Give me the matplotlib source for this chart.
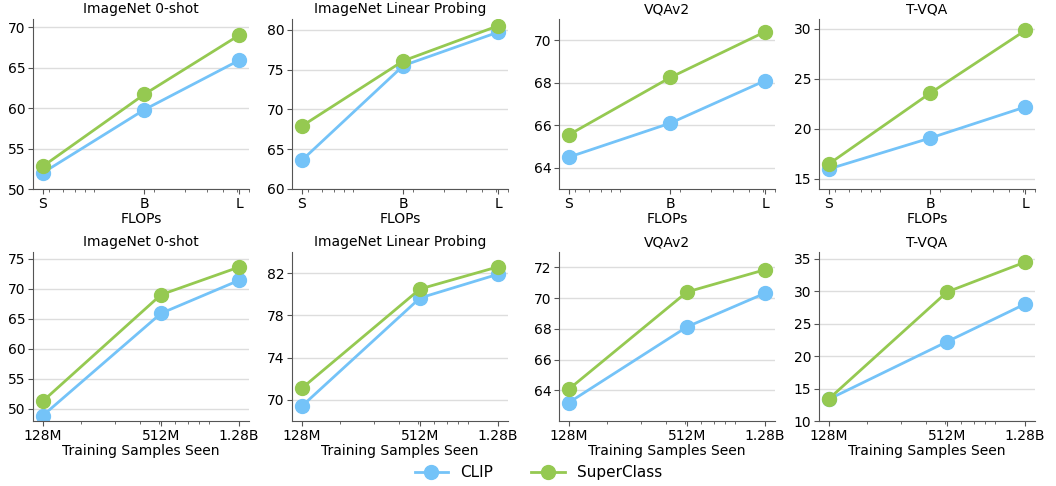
import matplotlib
matplotlib.use('Agg')
import matplotlib.pyplot as plt

# x positions (log scale): model FLOPs (GFLOPs) and training samples seen
flops = [4.6, 17.6, 61.6]
flop_labels = ['S', 'B', 'L']
samples = [128e6, 512e6, 1.28e9]
sample_labels = ['128M', '512M', '1.28B']

titles = ['ImageNet 0-shot', 'ImageNet Linear Probing', 'VQAv2', 'T-VQA']

# top row: scaling model size
clip_flops = [
    [52.0, 59.8, 65.9],
    [63.6, 75.5, 79.7],
    [64.5, 66.1, 68.1],
    [16.0, 19.1, 22.2],
]
sc_flops = [
    [52.8, 61.7, 69.0],
    [67.9, 76.1, 80.5],
    [65.55, 68.25, 70.4],
    [16.5, 23.6, 29.85],
]
ylim_flops = [(50, 71), (60, 81.35), (63, 71), (14, 31)]
yticks_flops = [[50, 55, 60, 65, 70], [60, 65, 70, 75, 80], [64, 66, 68, 70], [15, 20, 25, 30]]

# bottom row: scaling data
clip_samples = [
    [48.9, 65.9, 71.4],
    [69.4, 79.65, 81.9],
    [63.2, 68.13, 70.32],
    [13.35, 22.2, 28.0],
]
sc_samples = [
    [51.3, 69.0, 73.6],
    [71.1, 80.5, 82.6],
    [64.07, 70.4, 71.85],
    [13.4, 29.85, 34.45],
]
ylim_samples = [(48, 76.1), (68, 84), (62, 73), (10, 36)]
yticks_samples = [[50, 55, 60, 65, 70, 75], [70, 74, 78, 82], [64, 66, 68, 70, 72], [10, 15, 20, 25, 30, 35]]

blue = '#74C3F8'
green = '#95C951'

fig = plt.figure(figsize=(10.56, 4.86), dpi=100)

lefts = [33, 292, 559, 819]
axw = 216
W, H = 1056, 486


def style(ax):
    for s in ['top', 'right']:
        ax.spines[s].set_visible(False)
    for s in ['left', 'bottom']:
        ax.spines[s].set_color('#555555')
    ax.yaxis.grid(True, color='#dddddd', lw=1)
    ax.set_axisbelow(True)
    ax.tick_params(labelsize=10, length=3.5, color='#555555', pad=2)
    ax.tick_params(which='minor', length=2, color='#555555')


for i in range(4):
    # top row
    ax = fig.add_axes([lefts[i] / W, 1 - 189 / H, axw / W, 170 / H])
    ax.set_xscale('log')
    l1, = ax.plot(flops, clip_flops[i], '-o', color=blue, lw=2, ms=10, label='CLIP')
    l2, = ax.plot(flops, sc_flops[i], '-o', color=green, lw=2, ms=10, label='SuperClass')
    ax.set_xticks(flops)
    ax.set_xticklabels(flop_labels)
    ax.xaxis.set_minor_formatter(matplotlib.ticker.NullFormatter())
    ax.set_ylim(*ylim_flops[i])
    ax.set_yticks(yticks_flops[i])
    ax.set_title(titles[i], fontsize=10, pad=4)
    ax.set_xlabel('FLOPs', fontsize=10, labelpad=1)
    style(ax)

    # bottom row
    ax = fig.add_axes([lefts[i] / W, 1 - 421 / H, axw / W, 169 / H])
    ax.set_xscale('log')
    ax.plot(samples, clip_samples[i], '-o', color=blue, lw=2, ms=10)
    ax.plot(samples, sc_samples[i], '-o', color=green, lw=2, ms=10)
    ax.set_xticks(samples)
    ax.set_xticklabels(sample_labels)
    ax.xaxis.set_minor_formatter(matplotlib.ticker.NullFormatter())
    ax.set_ylim(*ylim_samples[i])
    ax.set_yticks(yticks_samples[i])
    ax.set_title(titles[i], fontsize=10, pad=4)
    ax.set_xlabel('Training Samples Seen', fontsize=10, labelpad=1)
    style(ax)

fig.legend([l1, l2], ['CLIP', 'SuperClass'], loc='center', bbox_to_anchor=(0.51, 0.027),
           ncol=2, frameon=False, fontsize=11, handlelength=2.2, columnspacing=2.5)

fig.savefig('out.png', dpi=100)
